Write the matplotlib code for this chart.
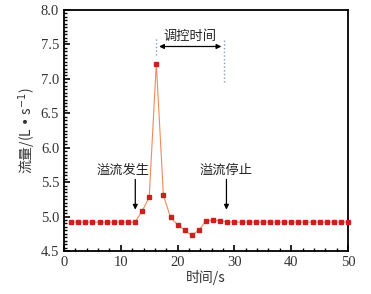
import matplotlib
matplotlib.use("Agg")
import matplotlib.pyplot as plt
from matplotlib.ticker import MultipleLocator

step = 1.25
time_s = [step * k for k in range(1, 41)]
flow = [4.92] * 10 + [5.08, 5.28, 7.22, 5.31, 4.99, 4.88, 4.80, 4.73, 4.80, 4.94, 4.95, 4.94] + [4.92] * 18

xlabel = "时间/s"
ylabel = "流量/(L • s$^{-1}$)"
ann_control = "调控时间"
ann_start = "溢流发生"
ann_stop = "溢流停止"

cjk = ["Noto Sans CJK SC", "DejaVu Sans"]
serif = "Liberation Serif"

fig = plt.figure(figsize=(3.71, 2.94), dpi=100)
ax = fig.add_axes([64/371, 1 - 251/294, (348-64)/371, (251-10)/294])

ax.plot(time_s, flow, color="#f08a5a", lw=0.8, zorder=2)
ax.plot(time_s, flow, ls="none", marker="s", ms=3.3, color="#cc1f1f", zorder=3, clip_on=False)

ax.set_xlim(0, 50)
ax.set_ylim(4.5, 8.0)
ax.xaxis.set_major_locator(MultipleLocator(10))
ax.xaxis.set_minor_locator(MultipleLocator(2))
ax.yaxis.set_major_locator(MultipleLocator(0.5))
ax.yaxis.set_minor_locator(MultipleLocator(0.05))
ax.yaxis.set_major_formatter(matplotlib.ticker.FormatStrFormatter("%.1f"))
ax.tick_params(which="both", direction="in", top=False, right=False, labelsize=10.5, colors="black")
ax.tick_params(which="major", length=4, width=1.2)
ax.tick_params(which="minor", length=2.2, width=1.0)
for lab in ax.get_xticklabels() + ax.get_yticklabels():
    lab.set_fontfamily(serif)
    lab.set_color("#333333")
for sp in ax.spines.values():
    sp.set_linewidth(1.3)

ax.set_xlabel(xlabel, family=cjk, fontsize=10, color="#333333", labelpad=1)
ax.set_ylabel(ylabel, family=cjk, fontsize=10, color="#333333", labelpad=2)

# control-time annotation
ax.plot([16.25, 16.25], [7.35, 7.6], ls=":", color="#8899bb", lw=1)
ax.plot([28.2, 28.2], [6.95, 7.58], ls=":", color="#8899bb", lw=1)
ax.annotate("", xy=(16.25, 7.47), xytext=(28.2, 7.47),
            arrowprops=dict(arrowstyle="<|-|>", color="black", lw=0.9, mutation_scale=7))
ax.text(22.2, 7.52, ann_control, family=cjk, fontsize=9.5, ha="center", va="bottom", color="#222222")

# overflow start / stop
ax.annotate("", xy=(12.55, 5.06), xytext=(12.55, 5.58),
            arrowprops=dict(arrowstyle="-|>", color="black", lw=0.9, mutation_scale=7))
ax.text(10.4, 5.67, ann_start, family=cjk, fontsize=9.5, ha="center", va="center", color="#222222")
ax.annotate("", xy=(28.6, 5.06), xytext=(28.6, 5.58),
            arrowprops=dict(arrowstyle="-|>", color="black", lw=0.9, mutation_scale=7))
ax.text(28.6, 5.67, ann_stop, family=cjk, fontsize=9.5, ha="center", va="center", color="#222222")

fig.savefig("out.png", dpi=100)
